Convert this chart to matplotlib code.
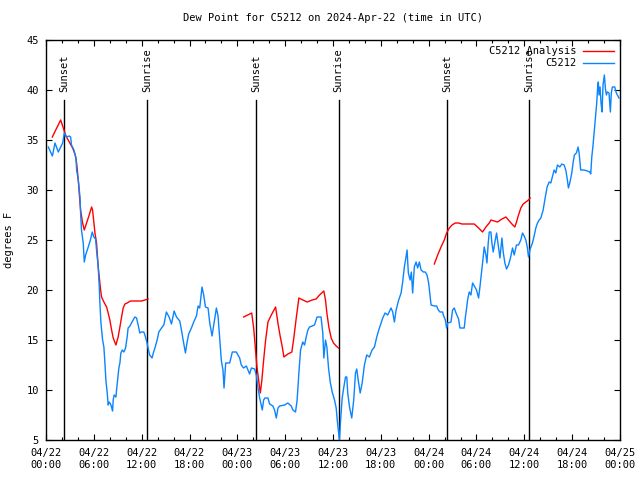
import numpy as np
import matplotlib
matplotlib.use("Agg")
import matplotlib.pyplot as plt
from matplotlib.ticker import MultipleLocator, FixedLocator

# ---- data (hours since 2024-04-22 00:00 UTC, degrees F) ----
obs_hours = [0.29, 0.8, 1.13, 1.54, 2.09, 2.3, 2.59, 2.92, 3.09, 3.2, 3.5, 3.76, 3.84, 4.05, 4.26, 4.34, 4.45,
             4.67, 4.8, 4.97, 5.3, 5.6, 5.8, 6.0, 6.22, 6.34, 6.55, 6.68, 6.76, 6.89, 7.1, 7.26, 7.39, 7.51,
             7.68, 7.8, 7.93, 8.1, 8.22, 8.35, 8.43, 8.55, 8.77, 8.85, 8.98, 9.14, 9.27, 9.39, 9.56, 9.77,
             9.98, 10.18, 10.3, 10.52, 10.73, 10.93, 11.14, 11.36, 11.56, 11.77, 11.98, 12.27, 12.48, 12.68,
             12.8, 13.0, 13.3, 13.5, 13.7, 13.94, 14.15, 14.49, 14.78, 15.1, 15.44, 15.74, 16.07, 16.37,
             16.78, 16.99, 17.2, 17.49, 17.7, 17.9, 18.24, 18.53, 18.87, 19.08, 19.28, 19.57, 19.78, 20.0,
             20.33, 20.54, 20.83, 21.04, 21.37, 21.58, 21.79, 22.0, 22.2, 22.33, 22.54, 23.04, 23.37, 23.87,
             24.29, 24.5, 24.79, 25.13, 25.54, 25.76, 26.17, 26.38, 26.58, 26.8, 27.0, 27.13, 27.3, 27.46,
             27.84, 28.05, 28.46, 28.67, 28.89, 29.1, 29.3, 29.93, 30.34, 30.76, 30.97, 31.3, 31.5, 31.72,
             31.93, 32.2, 32.43, 32.64, 32.85, 33.06, 33.39, 33.68, 34.0, 34.5, 34.72, 34.85, 35.06, 35.23,
             35.44, 35.65, 35.9, 36.19, 36.4, 36.53, 36.69, 36.8, 36.94, 37.15, 37.36, 37.57, 37.73, 37.85,
             38.07, 38.35, 38.6, 38.82, 38.98, 39.16, 39.41, 39.66, 39.94, 40.23, 40.57, 40.9, 41.2, 41.49,
             41.74, 42.03, 42.24, 42.53, 42.86, 43.28, 43.49, 43.7, 43.92, 44.24, 44.54, 44.74, 44.95, 45.16,
             45.29, 45.45, 45.67, 45.83, 45.99, 46.2, 46.42, 46.62, 46.83, 47.05, 47.33, 47.58, 47.79, 48.0,
             48.17, 48.3, 48.71, 49.0, 49.21, 49.42, 49.75, 49.84, 50.09, 50.25, 50.38, 50.8, 51.0, 51.21,
             51.43, 51.75, 51.92, 52.46, 52.59, 52.76, 52.88, 53.09, 53.3, 53.51, 53.8, 54.0, 54.26, 54.43,
             54.63, 54.76, 54.97, 55.18, 55.31, 55.47, 55.6, 55.81, 55.93, 56.1, 56.31, 56.52, 56.72, 56.94,
             57.19, 57.35, 57.56, 57.77, 58.01, 58.23, 58.52, 58.73, 59.01, 59.27, 59.56, 59.77, 59.98,
             60.19, 60.39, 60.52, 60.73, 61.02, 61.23, 61.44, 61.65, 61.86, 62.07, 62.36, 62.61, 62.86,
             63.11, 63.32, 63.52, 63.74, 63.95, 64.15, 64.45, 64.7, 64.99, 65.2, 65.4, 65.53, 65.7, 65.95,
             66.11, 66.28, 66.53, 66.74, 66.87, 67.07, 67.49, 67.91, 68.2, 68.33, 68.46, 68.62, 68.75, 68.95,
             69.08, 69.2, 69.28, 69.37, 69.5, 69.62, 69.75, 69.87, 70.04, 70.16, 70.29, 70.41, 70.62, 70.79,
             70.91, 71.04, 71.34, 71.54, 71.87]
obs_values = [34.3, 33.4, 34.7, 33.8, 34.7, 35.7, 35.3, 35.4, 35.3, 34.5, 34.0, 33.2, 32.0, 31.0, 29.3, 27.7, 26.0,
              24.7, 22.8, 23.5, 24.3, 25.1, 25.8, 25.3, 25.1, 24.0, 22.3, 20.3, 18.7, 16.7, 15.0, 14.3, 12.7, 11.0,
              9.7, 8.5, 8.8, 8.6, 8.3, 7.9, 9.0, 9.5, 9.3, 10.0, 11.0, 12.2, 12.7, 13.7, 14.0, 13.8,
              14.2, 15.3, 16.2, 16.4, 16.7, 17.0, 17.3, 17.2, 16.5, 15.7, 15.8, 15.8, 15.3, 14.7,
              14.2, 13.5, 13.2, 13.8, 14.3, 15.0, 15.8, 16.2, 16.5, 17.8, 17.3, 16.6, 17.9, 17.3,
              16.9, 16.0, 15.0, 13.7, 14.8, 15.6, 16.2, 16.8, 17.4, 18.4, 18.2, 20.3, 19.5, 18.3,
              18.2, 16.7, 15.4, 16.5, 18.2, 17.4, 15.2, 12.9, 12.0, 10.2, 12.7, 12.7, 13.8, 13.8,
              13.2, 12.5, 12.2, 12.4, 11.6, 12.2, 12.1, 11.5, 10.3, 9.2, 8.5, 8.0, 9.0, 9.2,
              9.2, 8.6, 8.4, 8.0, 7.2, 8.2, 8.4, 8.5, 8.7, 8.4, 8.0, 7.8, 9.0, 11.7,
              14.0, 14.8, 14.5, 15.3, 16.0, 16.3, 16.4, 16.5, 17.3, 17.3, 15.7, 13.2, 15.0, 14.3,
              12.2, 10.8, 9.8, 9.0, 8.2, 7.0, 5.8, 5.0, 6.8, 9.2, 10.3, 11.3, 11.3, 9.7,
              8.3, 7.2, 9.0, 11.7, 12.1, 11.0, 9.7, 10.7, 12.5, 13.5, 13.3, 14.0, 14.3, 15.3,
              16.0, 16.7, 17.2, 17.7, 17.5, 18.2, 17.8, 16.8, 18.0, 19.0, 19.7, 20.8, 22.3, 23.3,
              24.0, 21.7, 21.0, 21.8, 19.7, 22.3, 22.8, 22.2, 22.8, 22.0, 21.8, 21.8, 21.5, 20.7,
              19.5, 18.5, 18.4, 18.4, 18.0, 17.8, 17.8, 17.5, 17.0, 16.2, 16.7, 16.8, 18.0, 18.2,
              17.7, 17.1, 16.2, 16.2, 17.2, 18.2, 19.0, 19.8, 19.5, 20.7, 20.3, 20.0, 19.2, 20.3,
              21.7, 22.7, 24.3, 23.5, 22.7, 24.7, 25.8, 25.8, 24.7, 23.8, 24.8, 25.7, 24.5, 23.2,
              25.2, 23.8, 22.7, 22.1, 22.5, 23.1, 24.2, 23.5, 24.5, 24.5, 25.0, 25.7, 25.4,
              25.0, 24.2, 23.3, 24.1, 24.7, 25.4, 26.2, 26.7, 27.0, 27.2, 28.0, 29.2, 30.3,
              30.8, 30.7, 31.3, 32.0, 31.7, 32.5, 32.3, 32.6, 32.5, 32.0, 31.0, 30.2, 30.7, 31.7,
              32.7, 33.5, 33.7, 34.3, 33.7, 32.0, 32.0, 31.9, 31.8, 31.6, 33.3, 34.5, 35.7, 37.5,
              38.7, 40.3, 40.8, 39.5, 40.3, 38.7, 37.8, 40.5, 41.5, 40.2, 39.5, 39.8, 39.7, 37.8,
              39.7, 40.3, 40.3, 39.7, 39.2]

ana1_hours = [0.79, 1.84, 2.17, 2.5, 2.92, 3.34, 3.67, 3.84, 4.05, 4.17, 4.34, 4.59, 4.8, 5.09, 5.42, 5.72,
              5.84, 6.01, 6.14, 6.34, 6.55, 6.68, 6.85, 6.97, 7.26, 7.6, 7.8, 8.01, 8.23, 8.43, 8.77, 9.05,
              9.27, 9.48, 9.68, 9.9, 10.18, 10.6, 11.36, 11.98, 12.4, 12.8]
ana1_values = [35.3, 37.0, 36.2, 35.4, 34.8, 34.2, 33.5, 32.7, 31.0, 29.7, 28.0, 26.7, 26.0, 26.7, 27.5, 28.3,
               28.0, 26.7, 25.7, 24.7, 22.3, 21.3, 20.0, 19.3, 18.8, 18.3, 17.7, 17.0, 16.0, 15.2, 14.5, 15.3,
               16.3, 17.3, 18.2, 18.6, 18.7, 18.9, 18.9, 18.9, 19.0, 19.1]
ana2_hours = [24.79, 25.3, 25.8, 26.05, 26.26, 26.46, 26.7, 26.88, 27.08, 27.3, 27.55, 27.84, 28.26, 28.8,
              29.09, 29.39, 29.64, 29.84, 30.34, 30.84, 31.1, 31.39, 31.72, 32.22, 32.76, 33.39, 33.89,
              34.31, 34.85, 35.06, 35.23, 35.48, 35.77, 36.06, 36.4, 36.69]
ana2_values = [17.3, 17.5, 17.7, 16.2, 14.2, 12.3, 10.8, 9.7, 11.0, 13.0, 15.0, 16.8, 17.5, 18.3,
               16.7, 15.3, 14.3, 13.3, 13.6, 13.8, 15.3, 17.2, 19.2, 19.0, 18.8, 19.0, 19.1,
               19.5, 19.9, 19.0, 17.7, 16.3, 15.2, 14.7, 14.4, 14.2]
ana3_hours = [48.71, 49.13, 49.55, 49.96, 50.25, 50.59, 50.93, 51.34, 51.75, 52.17, 52.68, 53.3, 53.72,
              54.26, 54.76, 55.18, 55.6, 55.81, 56.22, 56.64, 57.19, 57.69, 58.01, 58.44, 58.81, 59.02,
              59.27, 59.56, 59.85, 60.19, 60.52, 60.73]
ana3_values = [22.6, 23.5, 24.3, 25.0, 25.7, 26.2, 26.5, 26.7, 26.7, 26.6, 26.6, 26.6, 26.6,
               26.2, 25.8, 26.3, 26.7, 27.0, 26.9, 26.8, 27.1, 27.3, 27.0, 26.6, 26.3, 26.8,
               27.5, 28.2, 28.6, 28.8, 29.0, 29.2]

sun_hours = [2.3, 12.7, 26.33, 36.72, 50.27, 60.64]
sun_labels = ["Sunset", "Sunrise", "Sunset", "Sunrise", "Sunset", "Sunrise"]

tick_hours = [0, 6, 12, 18, 24, 30, 36, 42, 48, 54, 60, 66, 72]
tick_labels = ["04/22\n00:00", "04/22\n06:00", "04/22\n12:00", "04/22\n18:00",
               "04/23\n00:00", "04/23\n06:00", "04/23\n12:00", "04/23\n18:00",
               "04/24\n00:00", "04/24\n06:00", "04/24\n12:00", "04/24\n18:00",
               "04/25\n00:00"]

title = "Dew Point for C5212 on 2024-Apr-22 (time in UTC)"

# ---- plot ----
plt.rcParams['font.family'] = ['DejaVu Sans Mono']
fs = 7.5
fig = plt.figure(figsize=(6.4, 4.8), dpi=100)
ax = fig.add_axes([46/640, 40/480, 574/640, 400/480])

red = "#ff0000"
blue = "#0a84ff"

for i, (hs, vs) in enumerate([(ana1_hours, ana1_values), (ana2_hours, ana2_values), (ana3_hours, ana3_values)]):
    ax.plot(hs, vs, color=red, lw=1.0, label="C5212 Analysis" if i == 0 else None, zorder=3)
ax.plot(obs_hours, obs_values, color=blue, lw=1.0, label="C5212", zorder=4)

for h, lab in zip(sun_hours, sun_labels):
    ax.plot([h, h], [5, 39], color="black", lw=1.0, zorder=2)
    ax.text(h, 39.8, lab, rotation=90, ha="center", va="bottom", fontsize=fs)

ax.set_xlim(0, 72)
ax.set_ylim(5, 45)
ax.xaxis.set_major_locator(FixedLocator(tick_hours))
ax.set_xticklabels(tick_labels)
ax.xaxis.set_minor_locator(MultipleLocator(2))
ax.yaxis.set_major_locator(MultipleLocator(5))
ax.tick_params(axis="both", which="major", direction="in", length=4, width=0.8,
               top=True, right=True, labelsize=fs, pad=5)
ax.tick_params(axis="both", which="minor", direction="in", length=2, width=0.8, top=True, right=True)
ax.tick_params(axis="x", which="major", pad=6)
for s in ax.spines.values():
    s.set_linewidth(1.0)

ax.set_ylabel("degrees F", fontsize=fs, labelpad=9)
ax.set_title(title, fontsize=fs, pad=14)

leg = ax.legend(loc="upper right", frameon=False, markerfirst=False, fontsize=fs,
                handlelength=3.0, borderaxespad=0.2, labelspacing=0.2, handletextpad=0.6,
                bbox_to_anchor=(1.0, 1.0))
for t in leg.get_texts():
    t.set_ha("right")

fig.savefig("out.png", dpi=100)
